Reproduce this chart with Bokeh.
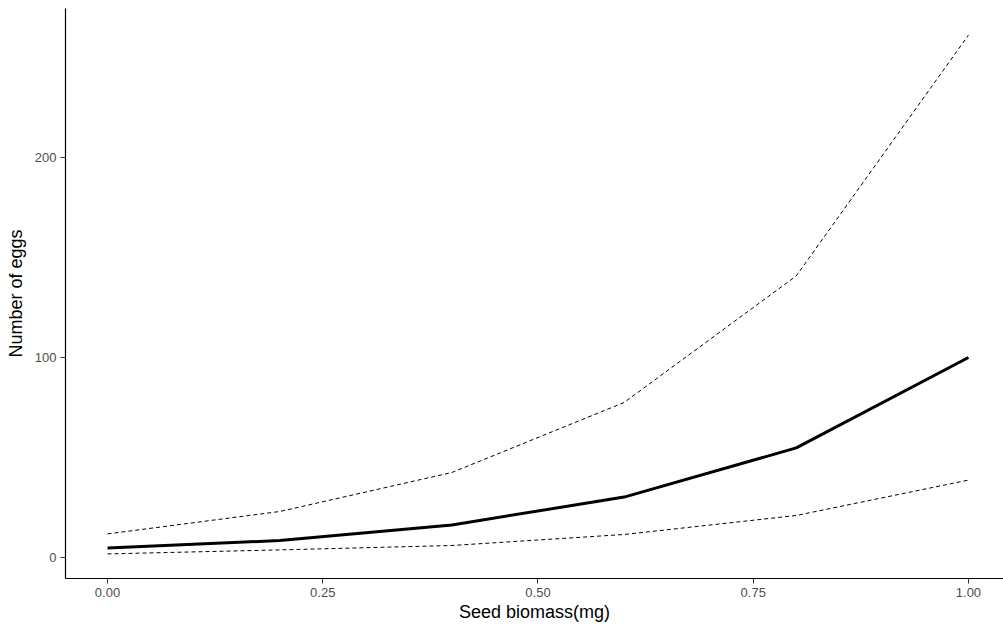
from bokeh.plotting import figure
from bokeh.models import FixedTicker, Range1d
from bokeh.embed import file_html
from bokeh.resources import INLINE

# Seed biomass (mg) and predicted egg counts with confidence bounds
biomass = [0.0, 0.2, 0.4, 0.6, 0.8, 1.0]
eggs_fit = [4.7, 8.5, 16.3, 30.2, 54.8, 100.0]
eggs_upper = [11.8, 23.0, 42.5, 77.5, 140.8, 261.2]
eggs_lower = [1.8, 3.8, 6.0, 11.5, 21.0, 38.7]

x_ticks = [0.0, 0.25, 0.5, 0.75, 1.0]
x_tick_labels = ["0.00", "0.25", "0.50", "0.75", "1.00"]
y_ticks = [0, 100, 200]

FONT = "Liberation Sans"

p = figure(
    width=1003, height=624,
    output_backend="svg", toolbar_location=None,
    x_range=Range1d(-0.0488, 1.0407),
    y_range=Range1d(-10.5, 274.5),
    min_border_left=65, min_border_right=0,
    min_border_top=8, min_border_bottom=46,
    background_fill_color="white", border_fill_color="white",
    outline_line_color=None,
)
p.grid.visible = False

p.line(biomass, eggs_upper, line_color="black", line_width=1, line_dash="4 3")
p.line(biomass, eggs_lower, line_color="black", line_width=1, line_dash="4 3")
p.line(biomass, eggs_fit, line_color="black", line_width=3)

for ax in (p.xaxis[0], p.yaxis[0]):
    ax.axis_line_color = "black"
    ax.axis_line_width = 1.2
    ax.major_tick_line_color = "#333333"
    ax.major_tick_line_width = 1
    ax.major_tick_out = 5
    ax.major_tick_in = 0
    ax.minor_tick_line_color = None
    ax.major_label_text_font = FONT
    ax.major_label_text_font_size = "13px"
    ax.major_label_text_color = "#4D4D4D"
    ax.axis_label_text_font = FONT
    ax.axis_label_text_font_size = "18px"
    ax.axis_label_text_font_style = "normal"
    ax.axis_label_text_color = "black"

p.xaxis.ticker = FixedTicker(ticks=x_ticks)
p.xaxis.major_label_overrides = {t: s for t, s in zip(x_ticks, x_tick_labels)}
p.xaxis.axis_label = "Seed biomass(mg)"
p.xaxis.major_label_standoff = 4
p.xaxis.axis_label_standoff = 2

p.yaxis.ticker = FixedTicker(ticks=y_ticks)
p.yaxis.axis_label = "Number of eggs"
p.yaxis.major_label_standoff = 4
p.yaxis.axis_label_standoff = 6

open("out.html", "w").write(file_html(p, INLINE))
